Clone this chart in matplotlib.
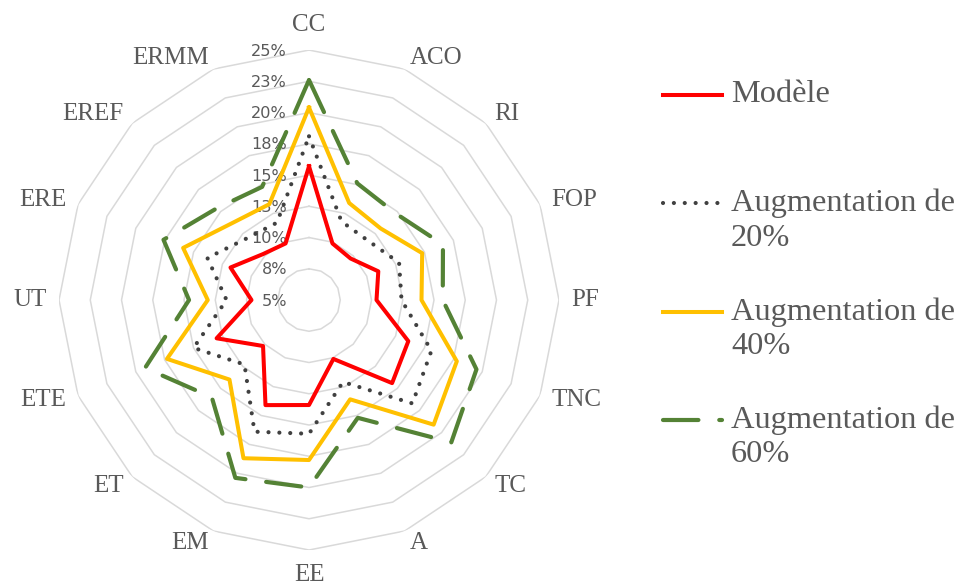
import numpy as np
import matplotlib.pyplot as plt

categories = ["CC", "ACO", "RI", "FOP", "PF", "TNC", "TC", "A",
              "EE", "EM", "ET", "ETE", "UT", "ERE", "EREF", "ERMM"]

# values in %
modele = [15.7, 9.9, 9.7, 11.0, 10.4, 13.6, 14.4, 10.1,
          13.4, 14.1, 10.2, 13.0, 9.6, 11.8, 10.2, 9.9]
aug20 = [18.1, 11.8, 11.7, 12.8, 12.4, 15.6, 16.7, 12.1,
         15.7, 16.4, 12.3, 15.0, 11.6, 13.8, 12.0, 11.7]
aug40 = [20.4, 13.4, 13.1, 14.8, 14.0, 17.8, 19.1, 13.6,
         17.8, 18.7, 14.0, 17.3, 13.1, 15.9, 13.7, 13.3]
aug60 = [22.6, 15.1, 14.8, 16.6, 15.7, 19.5, 21.1, 15.2,
         20.0, 20.4, 16.0, 19.2, 14.6, 17.6, 15.4, 14.8]

series_names = ["Modèle", "Augmentation de\n20%",
                "Augmentation de\n40%", "Augmentation de\n60%"]

tick_values = [5, 7.5, 10, 12.5, 15, 17.5, 20, 22.5, 25]
tick_labels = ["5%", "8%", "10%", "13%", "15%", "18%", "20%", "23%", "25%"]

gray_txt = "#595959"
serif = "Liberation Serif"

styles = [
    dict(color="#FF0000", lw=2.9, ls="-"),
    dict(color="#404040", lw=3.0, ls=(0, (0.01, 2.6)), dash_capstyle="round"),
    dict(color="#FFC000", lw=2.9, ls="-"),
    dict(color="#548235", lw=3.0, ls=(0, (8.5, 5)), dash_capstyle="round"),
]

fig = plt.figure(figsize=(9.61, 5.88), dpi=100)
ax = fig.add_axes([0.0614, 0.0646, 0.5203, 0.8503], projection="polar")
ax.set_theta_zero_location("N")
ax.set_theta_direction(-1)
ax.set_ylim(5, 25)
ax.axis("off")

n = len(categories)
angles = np.arange(n) * 2 * np.pi / n
closed = np.append(angles, angles[0])

# polygon grid rings
for v in tick_values[1:]:
    ax.plot(closed, [v] * (n + 1), color="#d9d9d9", lw=1.1, zorder=1)

# radial tick labels
for v, lbl in zip(tick_values, tick_labels):
    ax.annotate(lbl, xy=(0, v), xytext=(-22, -1), textcoords="offset pixels",
                ha="right", va="center", fontsize=11.6, color=gray_txt,
                zorder=2, annotation_clip=False)

# category labels
for a, cat in zip(angles, categories):
    s, c = np.sin(a), np.cos(a)
    if abs(s) < 0.1:
        ax.text(a, 26.1, cat, ha="center", va="bottom" if c > 0 else "top",
                fontsize=18, family=serif, color=gray_txt, clip_on=False)
    else:
        ax.text(a, 26.0, cat, ha="left" if s > 0 else "right", va="center",
                fontsize=18, family=serif, color=gray_txt, clip_on=False)

# series
for vals, st in zip([modele, aug20, aug40, aug60], styles):
    ax.plot(closed, vals + vals[:1], zorder=3, **st)

# legend drawn on an overlay in pixel coordinates
lax = fig.add_axes([0, 0, 1, 1])
lax.set_xlim(0, 961)
lax.set_ylim(588, 0)
lax.axis("off")
leg_y = [95, 203, 312, 420]
for y, name, st in zip(leg_y, series_names, styles):
    lax.plot([663, 722], [y, y], **st)
    for k, line in enumerate(name.split("\n")):
        lax.text(731, y + 35 * k, line, ha="left", va="center", fontsize=23.3,
                 family=serif, color=gray_txt)

fig.savefig("out.png", dpi=100)
